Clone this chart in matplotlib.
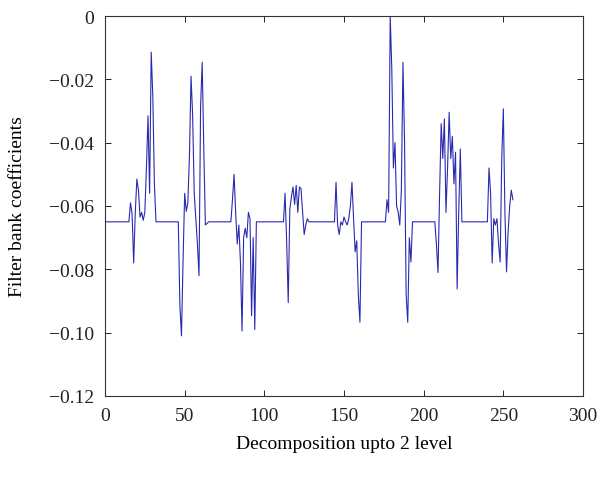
import numpy as np
import matplotlib
matplotlib.use("Agg")
import matplotlib.pyplot as plt

plt.rcParams['font.family'] = ['Liberation Serif', 'DejaVu Serif']

N_POINTS = 256
BASELINE = -0.065

burst_a_start = 16
burst_a = [-0.059, -0.0625, -0.078, -0.062, -0.0515, -0.055, -0.0635, -0.062,
           -0.0645, -0.062, -0.048, -0.0315, -0.056, -0.0114, -0.0253, -0.053]
burst_b_start = 47
burst_b = [-0.0915, -0.101, -0.077, -0.056, -0.0617, -0.059, -0.044, -0.019,
           -0.0315, -0.056, -0.064, -0.072, -0.082, -0.0283, -0.0146, -0.042,
           -0.066, -0.0655]
burst_c_start = 80
burst_c = [-0.058, -0.050, -0.062, -0.072, -0.066, -0.0777, -0.0995, -0.070,
           -0.067, -0.070, -0.062, -0.064, -0.0947, -0.070, -0.099]
burst_d_start = 113
burst_d = [-0.056, -0.071, -0.0905, -0.061, -0.057, -0.054, -0.0595, -0.0535,
           -0.062, -0.054, -0.0545, -0.062, -0.069, -0.066, -0.064]
burst_e_start = 145
burst_e = [-0.0525, -0.066, -0.069, -0.065, -0.066, -0.0635, -0.065, -0.066,
           -0.064, -0.060, -0.0525, -0.064, -0.0745, -0.071, -0.0883, -0.0967]
burst_f_start = 177
burst_f = [-0.058, -0.062, 0.0, -0.0167, -0.048, -0.040, -0.060, -0.062,
           -0.066, -0.055, -0.0146, -0.040, -0.088, -0.0967, -0.070, -0.0777]
burst_g_start = 208
burst_g = [-0.072, -0.081, -0.056, -0.034, -0.045, -0.0325, -0.062, -0.048,
           -0.0304, -0.045, -0.038, -0.053, -0.043, -0.0862, -0.062, -0.042]
burst_h_start = 241
burst_h = [-0.048, -0.056, -0.078, -0.064, -0.066, -0.064, -0.072, -0.0777,
           -0.045, -0.0293, -0.062, -0.0808, -0.068, -0.060, -0.055, -0.058]

x_ticks = [0, 50, 100, 150, 200, 250, 300]
y_ticks = [-0.12, -0.10, -0.08, -0.06, -0.04, -0.02, 0]
y_tick_labels = ['\u22120.12', '\u22120.10', '\u22120.08', '\u22120.06', '\u22120.04', '\u22120.02', '0']
x_label = 'Decomposition upto 2 level'
y_label = 'Filter bank coefficients'

series = np.full(N_POINTS, BASELINE)
for start, vals in [(burst_a_start, burst_a), (burst_b_start, burst_b),
                    (burst_c_start, burst_c), (burst_d_start, burst_d),
                    (burst_e_start, burst_e), (burst_f_start, burst_f),
                    (burst_g_start, burst_g), (burst_h_start, burst_h)]:
    series[start - 1:start - 1 + len(vals)] = vals
x = np.arange(1, N_POINTS + 1)

fig = plt.figure(figsize=(6.03, 4.81), dpi=100)
ax = fig.add_axes([105 / 603, 1 - 397 / 481, 478 / 603, 380 / 481])
ax.plot(x, series, color='#2a2ab0', linewidth=0.8)

ax.set_xlim(0, 300)
ax.set_ylim(-0.12, 0)
ax.set_xticks(x_ticks)
ax.set_xticklabels([str(t) for t in x_ticks])
ax.set_yticks(y_ticks)
ax.set_yticklabels(y_tick_labels)
ax.tick_params(direction='in', top=True, right=True, length=4, width=0.7,
               labelsize=14, colors='#222222', pad=8)
for s in ax.spines.values():
    s.set_linewidth(0.8)
    s.set_color('#333333')

ax.set_xlabel(x_label, fontsize=14, labelpad=8)
ax.set_ylabel(y_label, fontsize=14, labelpad=16)

fig.savefig('out.png', dpi=100)
